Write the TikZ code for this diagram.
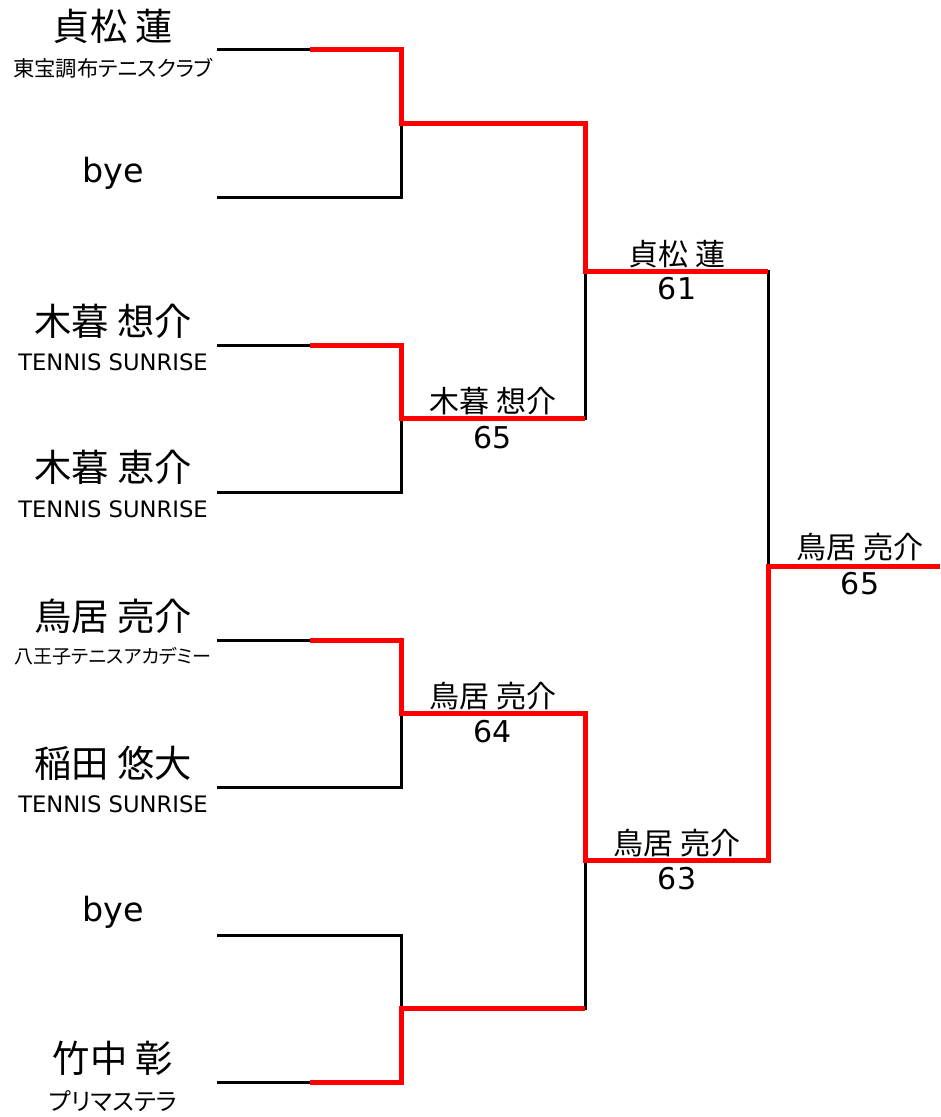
\documentclass[tikz,border=0pt]{standalone}
\usepackage{fontspec}
\setmainfont{Noto Sans CJK JP}[RawFeature=+palt]
\newfontfamily\latinfont{DejaVu Sans}
\usetikzlibrary{positioning}

\tikzset{
  bracket/.style={line width=2.25pt, black},
  winner/.style={line width=3.75pt, red, line join=miter},
  player/.style={font=\fontsize{28}{30}\selectfont, inner sep=0pt},
  club/.style={font=\fontsize{16}{18}\selectfont, inner sep=0pt},
  clubeng/.style={font=\latinfont\fontsize{17}{19}\selectfont, inner sep=0pt},
  byename/.style={font=\latinfont\fontsize{25}{27}\selectfont, inner sep=0pt},
  winname/.style={font=\fontsize{22.5}{24}\selectfont, inner sep=0pt},
  score/.style={font=\latinfont\fontsize{22.5}{24}\selectfont, inner sep=0pt},
}

\begin{document}
\begin{tikzpicture}[x=0.75pt, y=-0.75pt]
        \useasboundingbox (0,0) rectangle (940,1117);

        % Player lines (left ends)
        \coordinate (P1) at (217,49);
        \coordinate (P2) at (217,197);
        \coordinate (P3) at (217,345);
        \coordinate (P4) at (217,492);
        \coordinate (P5) at (217,640);
        \coordinate (P6) at (217,787);
        \coordinate (P7) at (217,935);
        \coordinate (P8) at (217,1082);

        % Where the winners' red starts
        \coordinate (W1) at (310,49);
        \coordinate (W3) at (310,345);
        \coordinate (W5) at (310,640);
        \coordinate (W8) at (310,1082);

        % First round joints
        \coordinate (J1) at (401,49);
        \coordinate (J2) at (401,197);
        \coordinate (J3) at (401,345);
        \coordinate (J4) at (401,492);
        \coordinate (J5) at (401,640);
        \coordinate (J6) at (401,787);
        \coordinate (J7) at (401,935);
        \coordinate (J8) at (401,1082);

        % First round winners
        \coordinate (M1) at (401,123);
        \coordinate (M2) at (401,418);
        \coordinate (M3) at (401,713);
        \coordinate (M4) at (401,1008);
        \coordinate (Q1) at (585,123);
        \coordinate (Q2) at (585,418);
        \coordinate (Q3) at (585,713);
        \coordinate (Q4) at (585,1008);

        % Second round winners
        \coordinate (R1) at (585,271);
        \coordinate (R2) at (585,860);
        \coordinate (S1) at (768,271);
        \coordinate (S2) at (768,860);

        % Final
        \coordinate (F) at (768,566);
        \coordinate (E) at (940,566);

        % Black bracket
        \draw[bracket] (P1) -- (J1) -- (J2) -- (P2);
        \draw[bracket] (P3) -- (J3) -- (J4) -- (P4);
        \draw[bracket] (P5) -- (J5) -- (J6) -- (P6);
        \draw[bracket] (P7) -- (J7) -- (J8) -- (P8);
        \draw[bracket] (M1) -- (Q1) -- (Q2) -- (M2);
        \draw[bracket] (M3) -- (Q3) -- (Q4) -- (M4);
        \draw[bracket] (R1) -- (S1) -- (S2) -- (R2);
        \draw[bracket] (F) -- (E);

        % Red winner paths
        \draw[winner] (W1) -- (J1) -- (M1) -- (Q1) -- (R1) -- (S1);
        \draw[winner] (W3) -- (J3) -- (M2) -- (Q2);
        \draw[winner] (W5) -- (J5) -- (M3) -- (Q3) -- (R2) -- (S2) -- (F) -- (E);
        \draw[winner] (W8) -- (J8) -- (M4) -- (Q4);

        % Players
        \node[player] (n1) at (113,26) {貞松 蓮};
        \node[club] (c1) at (113,68) {東宝調布テニスクラブ};
        \node[byename] (n2) at (113,173) {bye};
        \node[player] (n3) at (113,321) {木暮 想介};
        \node[clubeng] (c3) at (113,362) {TENNIS SUNRISE};
        \node[player] (n4) at (113,467) {木暮 恵介};
        \node[clubeng] (c4) at (113,509) {TENNIS SUNRISE};
        \node[player] (n5) at (113,616) {鳥居 亮介};
        \node[club, font=\fontsize{14.3}{16}\selectfont] (c5) at (113,656) {八王子テニスアカデミー};
        \node[player] (n6) at (113,763) {稲田 悠大};
        \node[clubeng] (c6) at (113,804) {TENNIS SUNRISE};
        \node[byename] (n7) at (113,912) {bye};
        \node[player] (n8) at (113,1058) {竹中 彰};
        \node[club, font=\fontsize{18}{20}\selectfont] (c8) at (113,1101) {プリマステラ};

        % Results
        \node[winname] (w2) at (493,401) {木暮 想介};
        \node[score] (s2) at (493,438) {65};
        \node[winname] (w3) at (493,696) {鳥居 亮介};
        \node[score] (s3) at (493,732) {64};
        \node[winname] (w5) at (677,254) {貞松 蓮};
        \node[score] (s5) at (677,289) {61};
        \node[winname] (w6) at (677,843) {鳥居 亮介};
        \node[score] (s6) at (677,879) {63};
        \node[winname] (w7) at (860,547) {鳥居 亮介};
        \node[score] (s7) at (860,584) {65};

        \end{tikzpicture}
\end{document}
